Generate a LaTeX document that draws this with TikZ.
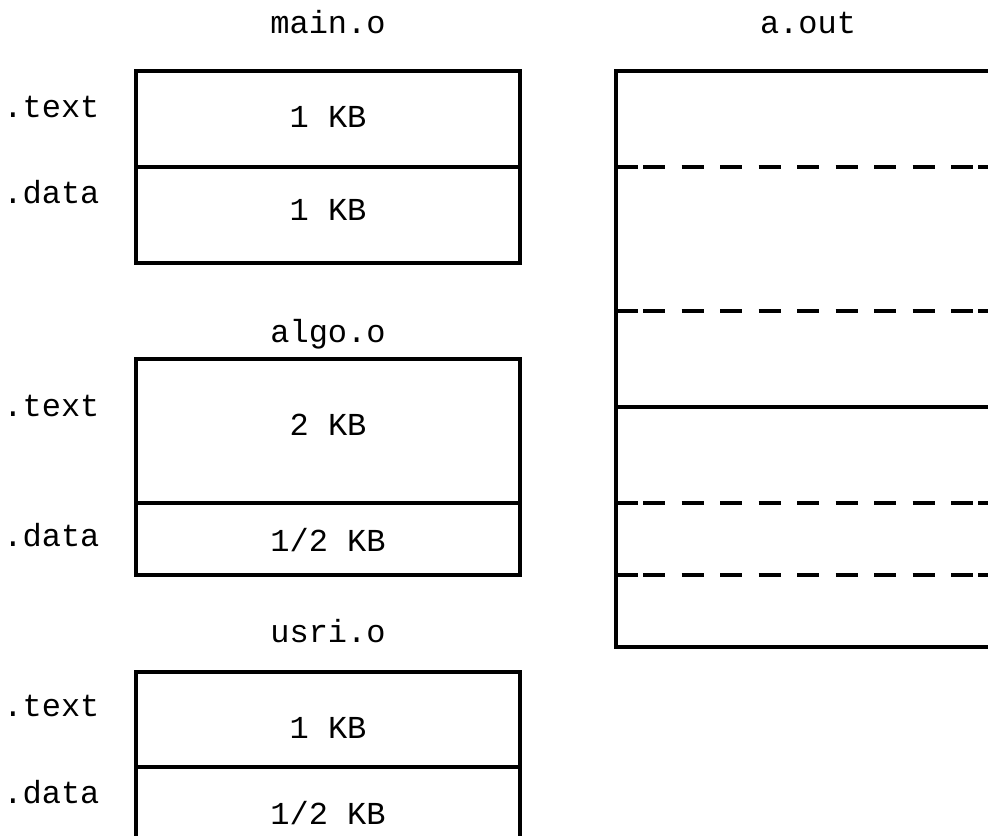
\documentclass[tikz,border=0pt]{standalone}
\usepackage{fontspec}
\setmonofont{Liberation Mono}
\begin{document}
\begin{tikzpicture}[x=0.5pt,y=-0.5pt,
  lbl/.style={font=\ttfamily\fontsize{16}{19}\selectfont, inner sep=0pt, anchor=base},
  side/.style={lbl, anchor=base west},
  wall/.style={line width=2pt, line join=miter},
  dashwall/.style={line width=2pt, dash pattern=on 11pt off 8.25pt}]
\useasboundingbox (0,0) rectangle (988,835);
% titles
\node[lbl] (mainlbl) at (328,33) {main.o};
\node[lbl] (aoutlbl) at (808,33) {a.out};
\node[lbl] (algolbl) at (328,342) {algo.o};
\node[lbl] (usrilbl) at (328,642) {usri.o};
% main.o
\draw[wall] (136,71) rectangle (520,263);
\draw[wall] (136,167) -- (520,167);
\node[side] (mtext) at (3,117) {.text};
\node[side] (mdata) at (3,203) {.data};
\node[lbl] (msz1) at (328,127) {1 KB};
\node[lbl] (msz2) at (328,220) {1 KB};
% algo.o
\draw[wall] (136,359) rectangle (520,575);
\draw[wall] (136,503) -- (520,503);
\node[side] (atext) at (3,416) {.text};
\node[side] (adata) at (3,546) {.data};
\node[lbl] (asz1) at (328,435) {2 KB};
\node[lbl] (asz2) at (328,551) {1/2 KB};
% usri.o
\draw[wall] (136,840) -- (136,672) -- (520,672) -- (520,840);
\draw[wall] (136,767) -- (520,767);
\node[side] (utext) at (3,716) {.text};
\node[side] (udata) at (3,803) {.data};
\node[lbl] (usz1) at (328,738) {1 KB};
\node[lbl] (usz2) at (328,824) {1/2 KB};
% a.out
\draw[wall] (992,71) -- (616,71) -- (616,647) -- (992,647);
\draw[wall] (616,407) -- (992,407);
\foreach \yy in {167,311,503,575} {
  \draw[wall] (616,\yy) -- (638,\yy);
  \draw[dashwall] (643,\yy) -- (974,\yy);
  \draw[wall] (978,\yy) -- (992,\yy);
}
\end{tikzpicture}
\end{document}
